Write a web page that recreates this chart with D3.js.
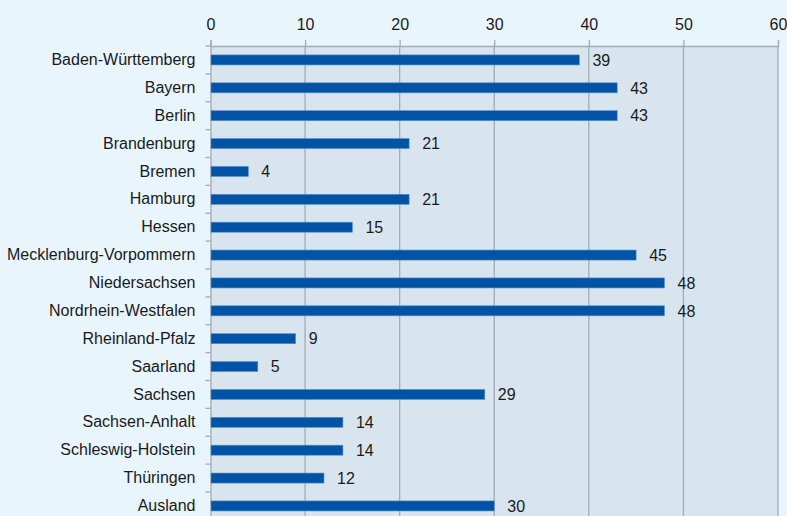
<!DOCTYPE html>
<html><head><meta charset="utf-8">
<script src="https://cdn.jsdelivr.net/npm/d3@7"></script>
<style>
html,body{margin:0;padding:0;background:#e8f5fc;}
svg{display:block;}
svg text{font-family:"Liberation Sans",Arial,sans-serif;}
</style></head>
<body><svg id="c" width="787" height="516"></svg>
<script>
const categories = ["Baden-Württemberg","Bayern","Berlin","Brandenburg","Bremen","Hamburg","Hessen","Mecklenburg-Vorpommern","Niedersachsen","Nordrhein-Westfalen","Rheinland-Pfalz","Saarland","Sachsen","Sachsen-Anhalt","Schleswig-Holstein","Thüringen","Ausland"];
const values = [39,43,43,21,4,21,15,45,48,48,9,5,29,14,14,12,30];
const tickValues = [0,10,20,30,40,50,60];

(function(){
const svg = d3.select("#c");
const pL = 210.5, pR = 778, pT = 46, bandH = 27.875;
const fs = 16;
const x = d3.scaleLinear().domain([0,60]).range([pL,pR]);
const y = d3.scaleBand().domain(categories).range([pT, pT + bandH*categories.length]).paddingInner(0.64).paddingOuter(0.32);
const pB = pT + bandH*categories.length;

svg.append("rect").attr("x",pL).attr("y",pT).attr("width",pR-pL).attr("height",pB-pT).attr("fill","#d9e5ee");

svg.append("g").selectAll("line").data(tickValues.slice(1)).join("line")
  .attr("x1",d=>x(d)).attr("x2",d=>x(d)).attr("y1",pT).attr("y2",pB)
  .attr("stroke","#a3abb3").attr("stroke-width",1.3);

const xa = svg.append("g").attr("transform",`translate(0,${pT})`)
  .call(d3.axisTop(x).tickValues(tickValues).tickSize(6).tickPadding(10));
xa.select(".domain").attr("stroke","#a3abb3").attr("stroke-width",1.3);
xa.selectAll(".tick line").attr("stroke","#a3abb3").attr("stroke-width",1.3);
xa.selectAll("text").attr("font-size",fs).attr("fill","#1a1a1a").attr("font-family",null);

const ya = svg.append("g").attr("transform",`translate(${pL},0)`)
  .call(d3.axisLeft(y).tickSize(0).tickPadding(15));
ya.select(".domain").attr("stroke","#a3abb3").attr("stroke-width",1.3);
ya.selectAll("text").attr("font-size",fs).attr("fill","#1a1a1a").attr("font-family",null);
svg.append("g").selectAll("line").data(d3.range(categories.length+1)).join("line")
  .attr("x1",pL-5).attr("x2",pL).attr("y1",i=>pT+i*bandH).attr("y2",i=>pT+i*bandH)
  .attr("stroke","#a3abb3").attr("stroke-width",1.3);

svg.append("g").selectAll("rect").data(values).join("rect")
  .attr("x",x(0)+0.5).attr("y",(d,i)=>y(categories[i]))
  .attr("width",d=>x(d)-x(0)-0.5).attr("height",y.bandwidth())
  .attr("fill","#0053a5").attr("stroke","#5f8fcf").attr("stroke-width",0.6);

svg.append("g").selectAll("text").data(values).join("text")
  .attr("x",d=>x(d)+13).attr("y",(d,i)=>y(categories[i])+y.bandwidth()/2)
  .attr("dy","0.36em").attr("font-size",fs).attr("fill","#1a1a1a")
  .text(d=>d);
})();
</script></body></html>
